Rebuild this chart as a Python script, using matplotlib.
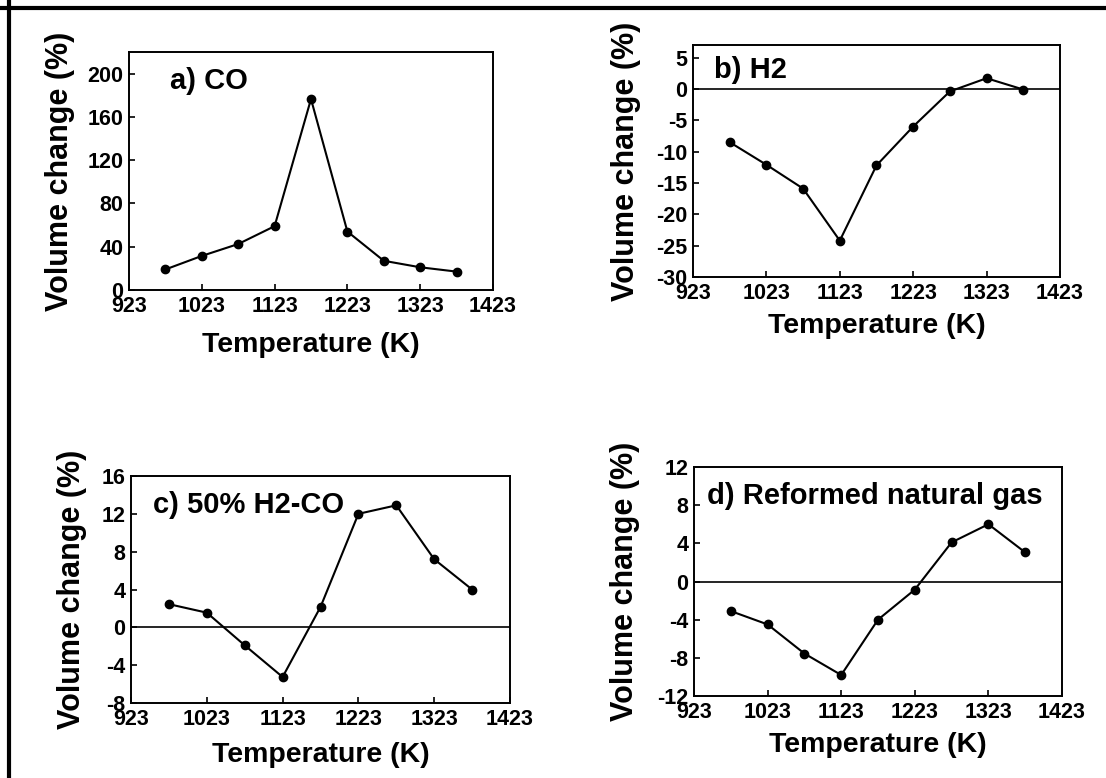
import matplotlib
matplotlib.use("Agg")
import matplotlib.pyplot as plt
from matplotlib.lines import Line2D

plt.rcParams['font.family'] = ['Liberation Sans', 'DejaVu Sans']
plt.rcParams['axes.unicode_minus'] = False

# temperatures (K) and volume change (%) for each gas
temps = [973, 1023, 1073, 1123, 1173, 1223, 1273, 1323, 1373]
vol_co = [19, 31.5, 42.5, 59, 176.5, 54, 27, 21, 17]
vol_h2 = [-8.5, -12.1, -15.9, -24.2, -12.2, -6.0, -0.4, 1.7, -0.1]
vol_mix = [2.45, 1.55, -1.9, -5.25, 2.15, 12.0, 12.9, 7.2, 4.0]
vol_rng = [-3.1, -4.5, -7.55, -9.8, -4.0, -0.85, 4.1, 6.0, 3.05]

x_ticks = [923, 1023, 1123, 1223, 1323, 1423]

W, H = 1106, 778
fig = plt.figure(figsize=(W / 100, H / 100), dpi=100)


def box(l, t, r, b):
    return [l / W, 1 - b / H, (r - l) / W, (b - t) / H]


panels = [
    # rect, data, ylim, yticks, label, label pos, zero line, ylabel x, xlabel y
    (box(129, 52, 493, 290), vol_co, (0, 220), range(0, 201, 40),
     'a) CO', (0.113, 0.845), False, -0.147, -0.176),
    (box(693, 45, 1060, 277), vol_h2, (-30, 7), range(-30, 6, 5),
     'b) H2', (0.058, 0.858), True, -0.141, -0.155),
    (box(131, 476, 510, 703), vol_mix, (-8, 16), range(-8, 17, 4),
     'c) 50% H2-CO', (0.059, 0.837), True, -0.115, -0.172),
    (box(694, 467, 1062, 696), vol_rng, (-12, 12), range(-12, 13, 4),
     'd) Reformed natural gas', (0.034, 0.838), True, -0.147, -0.157),
]

for rect, vals, ylim, yt, label, lpos, zero, ylx, xly in panels:
    ax = fig.add_axes(rect)
    if zero:
        ax.axhline(0, color='black', lw=1.2, zorder=1)
    ax.plot(temps, vals, '-', color='black', lw=1.5, marker='o',
            markersize=6, zorder=3)
    ax.set_xlim(923, 1423)
    ax.set_ylim(*ylim)
    ax.set_xticks(x_ticks)
    ax.set_yticks(list(yt))
    ax.tick_params(direction='in', length=4, width=1.2, labelsize=15.5,
                   pad=4, top=False, right=False)
    for t in ax.get_xticklabels() + ax.get_yticklabels():
        t.set_fontweight('bold')
    for s in ax.spines.values():
        s.set_linewidth(1.4)
    ax.set_xlabel('Temperature (K)', fontsize=20.5, fontweight='bold')
    ax.set_ylabel('Volume change (%)', fontsize=22, fontweight='bold')
    ax.xaxis.set_label_coords(0.5, xly)
    ax.yaxis.set_label_coords(ylx, 0.5)
    ax.text(lpos[0], lpos[1], label, transform=ax.transAxes, fontsize=21,
            fontweight='bold', va='baseline', ha='left')

# frame lines along the top and left edge
fig.add_artist(Line2D([0, 1], [1 - 8 / H, 1 - 8 / H], color='black', lw=3,
                      transform=fig.transFigure))
fig.add_artist(Line2D([9 / W, 9 / W], [0, 1], color='black', lw=3,
                      transform=fig.transFigure))

fig.savefig('out.png', dpi=100)
